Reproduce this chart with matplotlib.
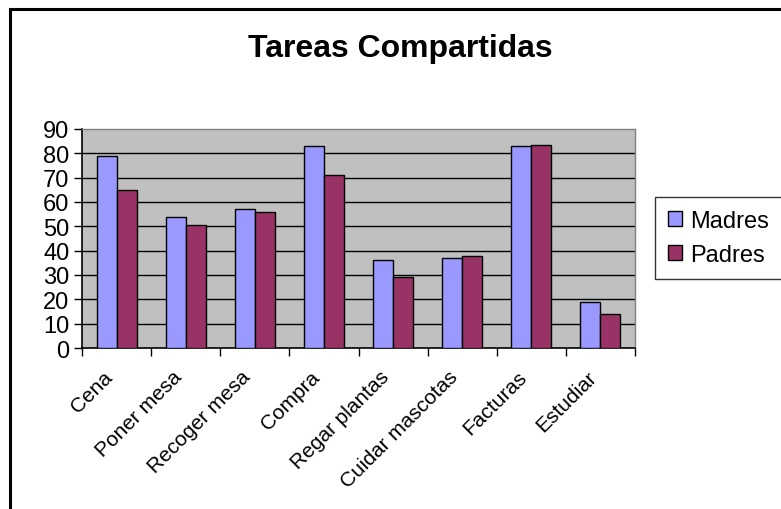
import matplotlib
matplotlib.use("Agg")
import matplotlib.pyplot as plt
import matplotlib.transforms as mtransforms
import numpy as np
from matplotlib.patches import Rectangle

categories = ["Cena", "Poner mesa", "Recoger mesa", "Compra", "Regar plantas",
              "Cuidar mascotas", "Facturas", "Estudiar"]
madres = [79, 54, 57, 83, 36, 37, 83, 19]
padres = [65, 50.5, 56, 71, 29, 38, 83.5, 14]
yticks = [0, 10, 20, 30, 40, 50, 60, 70, 80, 90]

plt.rcParams['font.family'] = ['Liberation Sans', 'DejaVu Sans']

W, H = 781, 510
fig = plt.figure(figsize=(W / 100, H / 100), dpi=100)
fig.patch.set_facecolor('white')

# outer chart frame (extends beyond right/bottom edge)
fig.add_artist(Rectangle((9.5 / W, -0.1), 1.2, 1.1 - 9.5 / H,
                         transform=fig.transFigure, fill=False,
                         edgecolor='black', linewidth=2.2))

ax = fig.add_axes([82 / W, 1 - 349 / H, (635 - 82) / W, (349 - 130) / H])
ax.set_facecolor('#C0C0C0')

x = np.arange(len(categories))
bw = 0.29
ax.bar(x - bw / 2, madres, bw, color='#9999FF', edgecolor='black', linewidth=1.0,
       label='Madres', zorder=3)
ax.bar(x + bw / 2, padres, bw, color='#993366', edgecolor='black', linewidth=1.0,
       label='Padres', zorder=3)

ax.set_xlim(-0.5, len(categories) - 0.5)
ax.set_ylim(0, 90)
ax.set_yticks(yticks)
ax.set_yticklabels([str(v) for v in yticks], fontsize=17)
for v in yticks[1:-1]:
    ax.axhline(v, color='black', linewidth=1.0, zorder=1)

ax.set_xticks(np.arange(len(categories) + 1) - 0.5, minor=False)
ax.set_xticklabels([])
ax.set_xticks(x, minor=True)
ax.set_xticklabels(categories, minor=True, rotation=45, ha='right',
                   rotation_mode='anchor', fontsize=15)
ax.tick_params(axis='x', which='minor', length=0, pad=12)
ax.tick_params(axis='x', which='major', length=6, width=1, direction='out')
ax.tick_params(axis='y', length=6, width=1, direction='out', pad=3)

shift = mtransforms.ScaledTranslation(-14 / 100, -2 / 100, fig.dpi_scale_trans)
for lbl in ax.get_xticklabels(minor=True):
    lbl.set_transform(lbl.get_transform() + shift)

for s in ['left', 'bottom']:
    ax.spines[s].set_color('black')
    ax.spines[s].set_linewidth(1.2)
for s in ['top', 'right']:
    ax.spines[s].set_color('#808080')
    ax.spines[s].set_linewidth(1.0)

fig.text(400 / W, 1 - 49 / H, "Tareas Compartidas", ha='center', va='center',
         fontsize=23, fontweight='bold')

leg = ax.legend(loc='upper left', bbox_to_anchor=(655 / W, 1 - 198 / H),
                bbox_transform=fig.transFigure, fontsize=17, frameon=True,
                fancybox=False, edgecolor='black', handlelength=0.6,
                handleheight=0.6, handletextpad=0.35, borderpad=0.55,
                labelspacing=0.5, borderaxespad=0)
leg.get_frame().set_linewidth(1.0)

fig.savefig("out.png", dpi=100)
